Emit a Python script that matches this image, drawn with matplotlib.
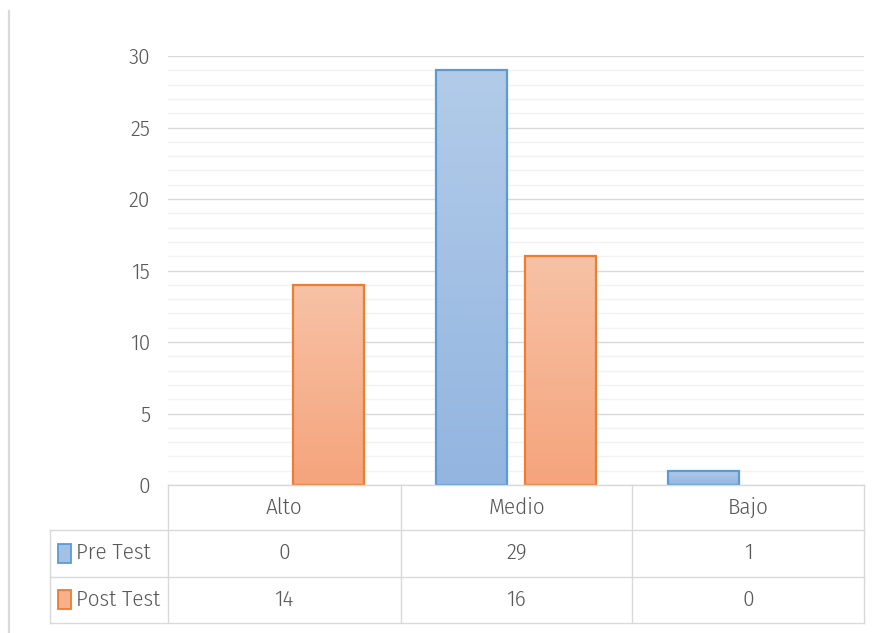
import matplotlib
matplotlib.use("Agg")
import matplotlib.pyplot as plt
import numpy as np
from matplotlib.patches import Rectangle
from matplotlib.lines import Line2D
from matplotlib.colors import LinearSegmentedColormap

categories = ["Alto", "Medio", "Bajo"]
series_names = ["Pre Test", "Post Test"]
pre_test = [0, 29, 1]
post_test = [14, 16, 0]
y_ticks = [0, 5, 10, 15, 20, 25, 30]

plt.rcParams['font.family'] = ['Fira Sans Condensed', 'DejaVu Sans']
plt.rcParams['font.weight'] = 300
TXT = "#595959"
FS = 16.5

W, H = 879, 633
fig = plt.figure(figsize=(W / 100, H / 100), dpi=100)

def fx(px):
    return px / W

def fy(py):
    return 1 - py / H

# left border line
fig.add_artist(Line2D([fx(9), fx(9)], [fy(11), 0], color="#d9d9d9", lw=1.6))

ax = fig.add_axes([fx(168), fy(485), fx(864) - fx(168), fy(56) - fy(485)])
ax.set_xlim(-0.5, 2.5)
ax.set_ylim(0, 30)
for s in ax.spines.values():
    s.set_visible(False)
ax.set_xticks([])
ax.set_yticks(y_ticks)
ax.set_yticklabels([str(v) for v in y_ticks], color=TXT, fontsize=FS, fontweight=300)
ax.tick_params(axis="y", length=0, pad=13)
ax.set_yticks(np.arange(0, 31, 1), minor=True)
ax.tick_params(axis="y", which="minor", length=0)
ax.grid(axis="y", which="minor", color="#f2f2f2", lw=1.0, zorder=0)
ax.grid(axis="y", which="major", color="#d9d9d9", lw=1.0, zorder=0)
ax.set_axisbelow(True)

blue_cmap = LinearSegmentedColormap.from_list("b", ["#93b5e0", "#b2cbe9"])
orange_cmap = LinearSegmentedColormap.from_list("o", ["#f5a47c", "#f7c2a6"])
edges = ["#5b9bd5", "#ed7d31"]
cmaps = [blue_cmap, orange_cmap]
width = 0.306
offsets = [-0.192, 0.192]
grad = np.linspace(0, 1, 256).reshape(-1, 1)
for si, vals in enumerate([pre_test, post_test]):
    for ci, v in enumerate(vals):
        if v <= 0:
            continue
        x0 = ci + offsets[si] - width / 2
        ax.imshow(grad, extent=(x0, x0 + width, 0, v), origin="lower",
                  cmap=cmaps[si], aspect="auto", zorder=2, interpolation="bilinear")
        ax.add_patch(Rectangle((x0, 0), width, v, facecolor="none",
                               edgecolor=edges[si], lw=1.6, zorder=3))
ax.set_xlim(-0.5, 2.5)
ax.set_ylim(0, 30)

# data table
GC = "#d9d9d9"
col_x = [168, 400.7, 632.3, 864]
row_y = [485, 529.5, 576.5, 623]
lw = 1.0
fig.add_artist(Line2D([fx(168), fx(864)], [fy(485), fy(485)], color=GC, lw=lw))
for yy in row_y[1:]:
    fig.add_artist(Line2D([fx(50), fx(864)], [fy(yy), fy(yy)], color=GC, lw=lw))
for xx in col_x:
    fig.add_artist(Line2D([fx(xx), fx(xx)], [fy(485), fy(623)], color=GC, lw=lw))
fig.add_artist(Line2D([fx(50), fx(50)], [fy(529.5), fy(623)], color=GC, lw=lw))

for ci, c in enumerate(categories):
    cx = (col_x[ci] + col_x[ci + 1]) / 2
    fig.text(fx(cx), fy((row_y[0] + row_y[1]) / 2), c, ha="center", va="center",
             color=TXT, fontsize=FS)
fills = ["#a3c0e5", "#f6b08e"]
for si, (name, vals) in enumerate(zip(series_names, [pre_test, post_test])):
    ry = (row_y[si + 1] + row_y[si + 2]) / 2
    fig.add_artist(Rectangle((fx(57.5), fy(ry + 9.5)), fx(13), fy(0) - fy(19),
                             facecolor=fills[si], edgecolor=edges[si], lw=1.3))
    fig.text(fx(76), fy(ry), name, ha="left", va="center", color=TXT, fontsize=FS)
    for ci, v in enumerate(vals):
        cx = (col_x[ci] + col_x[ci + 1]) / 2
        fig.text(fx(cx), fy(ry), str(v), ha="center", va="center", color=TXT, fontsize=FS)

fig.savefig("out.png", dpi=100)
